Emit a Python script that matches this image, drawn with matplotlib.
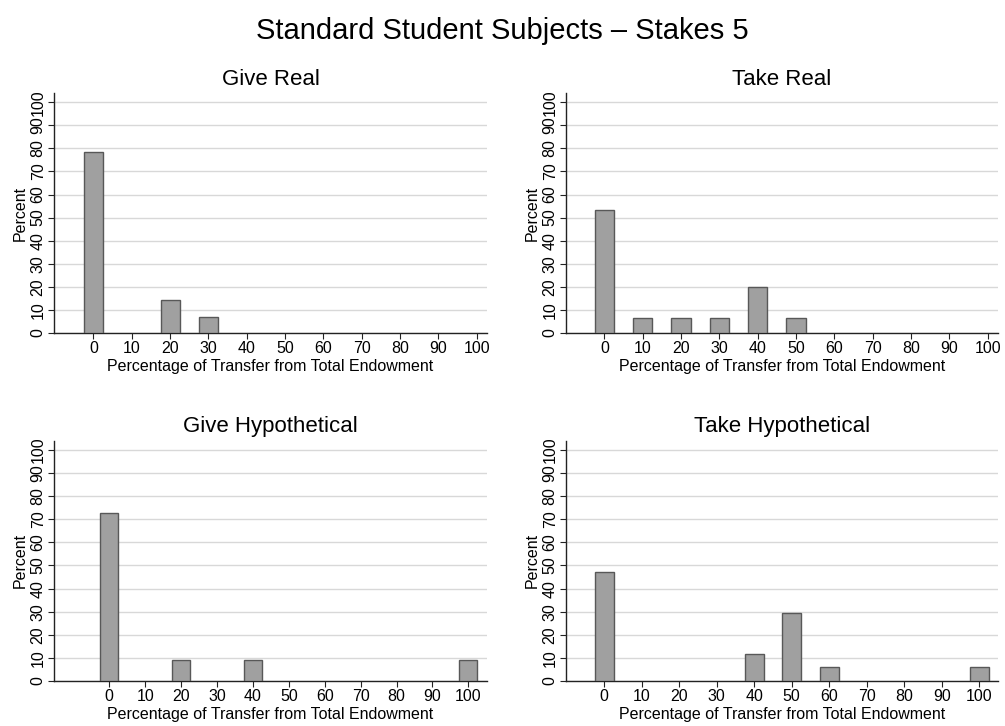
import matplotlib
matplotlib.use("Agg")
import matplotlib.pyplot as plt

plt.rcParams['font.family'] = ['Liberation Sans', 'DejaVu Sans']

# Percent of subjects at each transfer level
give_real_x = [0, 20, 30]
give_real_pct = [78.57, 14.29, 7.14]

take_real_x = [0, 10, 20, 30, 40, 50]
take_real_pct = [53.33, 6.67, 6.67, 6.67, 20.0, 6.67]

give_hyp_x = [0, 20, 40, 100]
give_hyp_pct = [72.73, 9.09, 9.09, 9.09]

take_hyp_x = [0, 40, 50, 60, 100]
take_hyp_pct = [47.06, 11.76, 29.41, 5.88, 5.88]

x_ticks = list(range(0, 101, 10))
y_ticks = list(range(0, 101, 10))

panels = [
    ("Give Real", give_real_x, give_real_pct, [0.0537, 0.5413, 0.4309, 0.3306], (-10.3, 102.7)),
    ("Take Real", take_real_x, take_real_pct, [0.5632, 0.5413, 0.4298, 0.3306], (-10.0, 102.7)),
    ("Give Hypothetical", give_hyp_x, give_hyp_pct, [0.0537, 0.0620, 0.4309, 0.3310], (-15.4, 105.2)),
    ("Take Hypothetical", take_hyp_x, take_hyp_pct, [0.5632, 0.0620, 0.4298, 0.3310], (-10.2, 105.0)),
]

fig = plt.figure(figsize=(10.05, 7.26), dpi=100)
fig.text(0.5, 0.957, "Standard Student Subjects \u2013 Stakes 5", ha="center", va="center", fontsize=21)

for title, xs, ys, rect, xlim in panels:
    ax = fig.add_axes(rect)
    ax.bar(xs, ys, width=5, color="#a0a0a0", edgecolor="#585858", linewidth=1.0, zorder=3)
    ax.set_xlim(*xlim)
    ax.set_ylim(0, 104)
    ax.set_xticks(x_ticks)
    ax.set_yticks(y_ticks)
    ax.set_yticklabels([str(v) for v in y_ticks], rotation=90, va="center")
    ax.yaxis.grid(True, color="#d8d8d8", linewidth=1.0, zorder=0)
    ax.set_axisbelow(True)
    for s in ("top", "right"):
        ax.spines[s].set_visible(False)
    for s in ("left", "bottom"):
        ax.spines[s].set_color("#222222")
        ax.spines[s].set_linewidth(1.0)
    ax.tick_params(axis="both", direction="out", length=4, width=0.8, color="#222222",
                   labelsize=11.5, pad=2)
    ax.set_xlabel("Percentage of Transfer from Total Endowment", fontsize=11.5, labelpad=2)
    ax.set_ylabel("Percent", fontsize=11.5, labelpad=2)
    ax.set_title(title, fontsize=16, pad=6)

fig.savefig("out.png", dpi=100)
